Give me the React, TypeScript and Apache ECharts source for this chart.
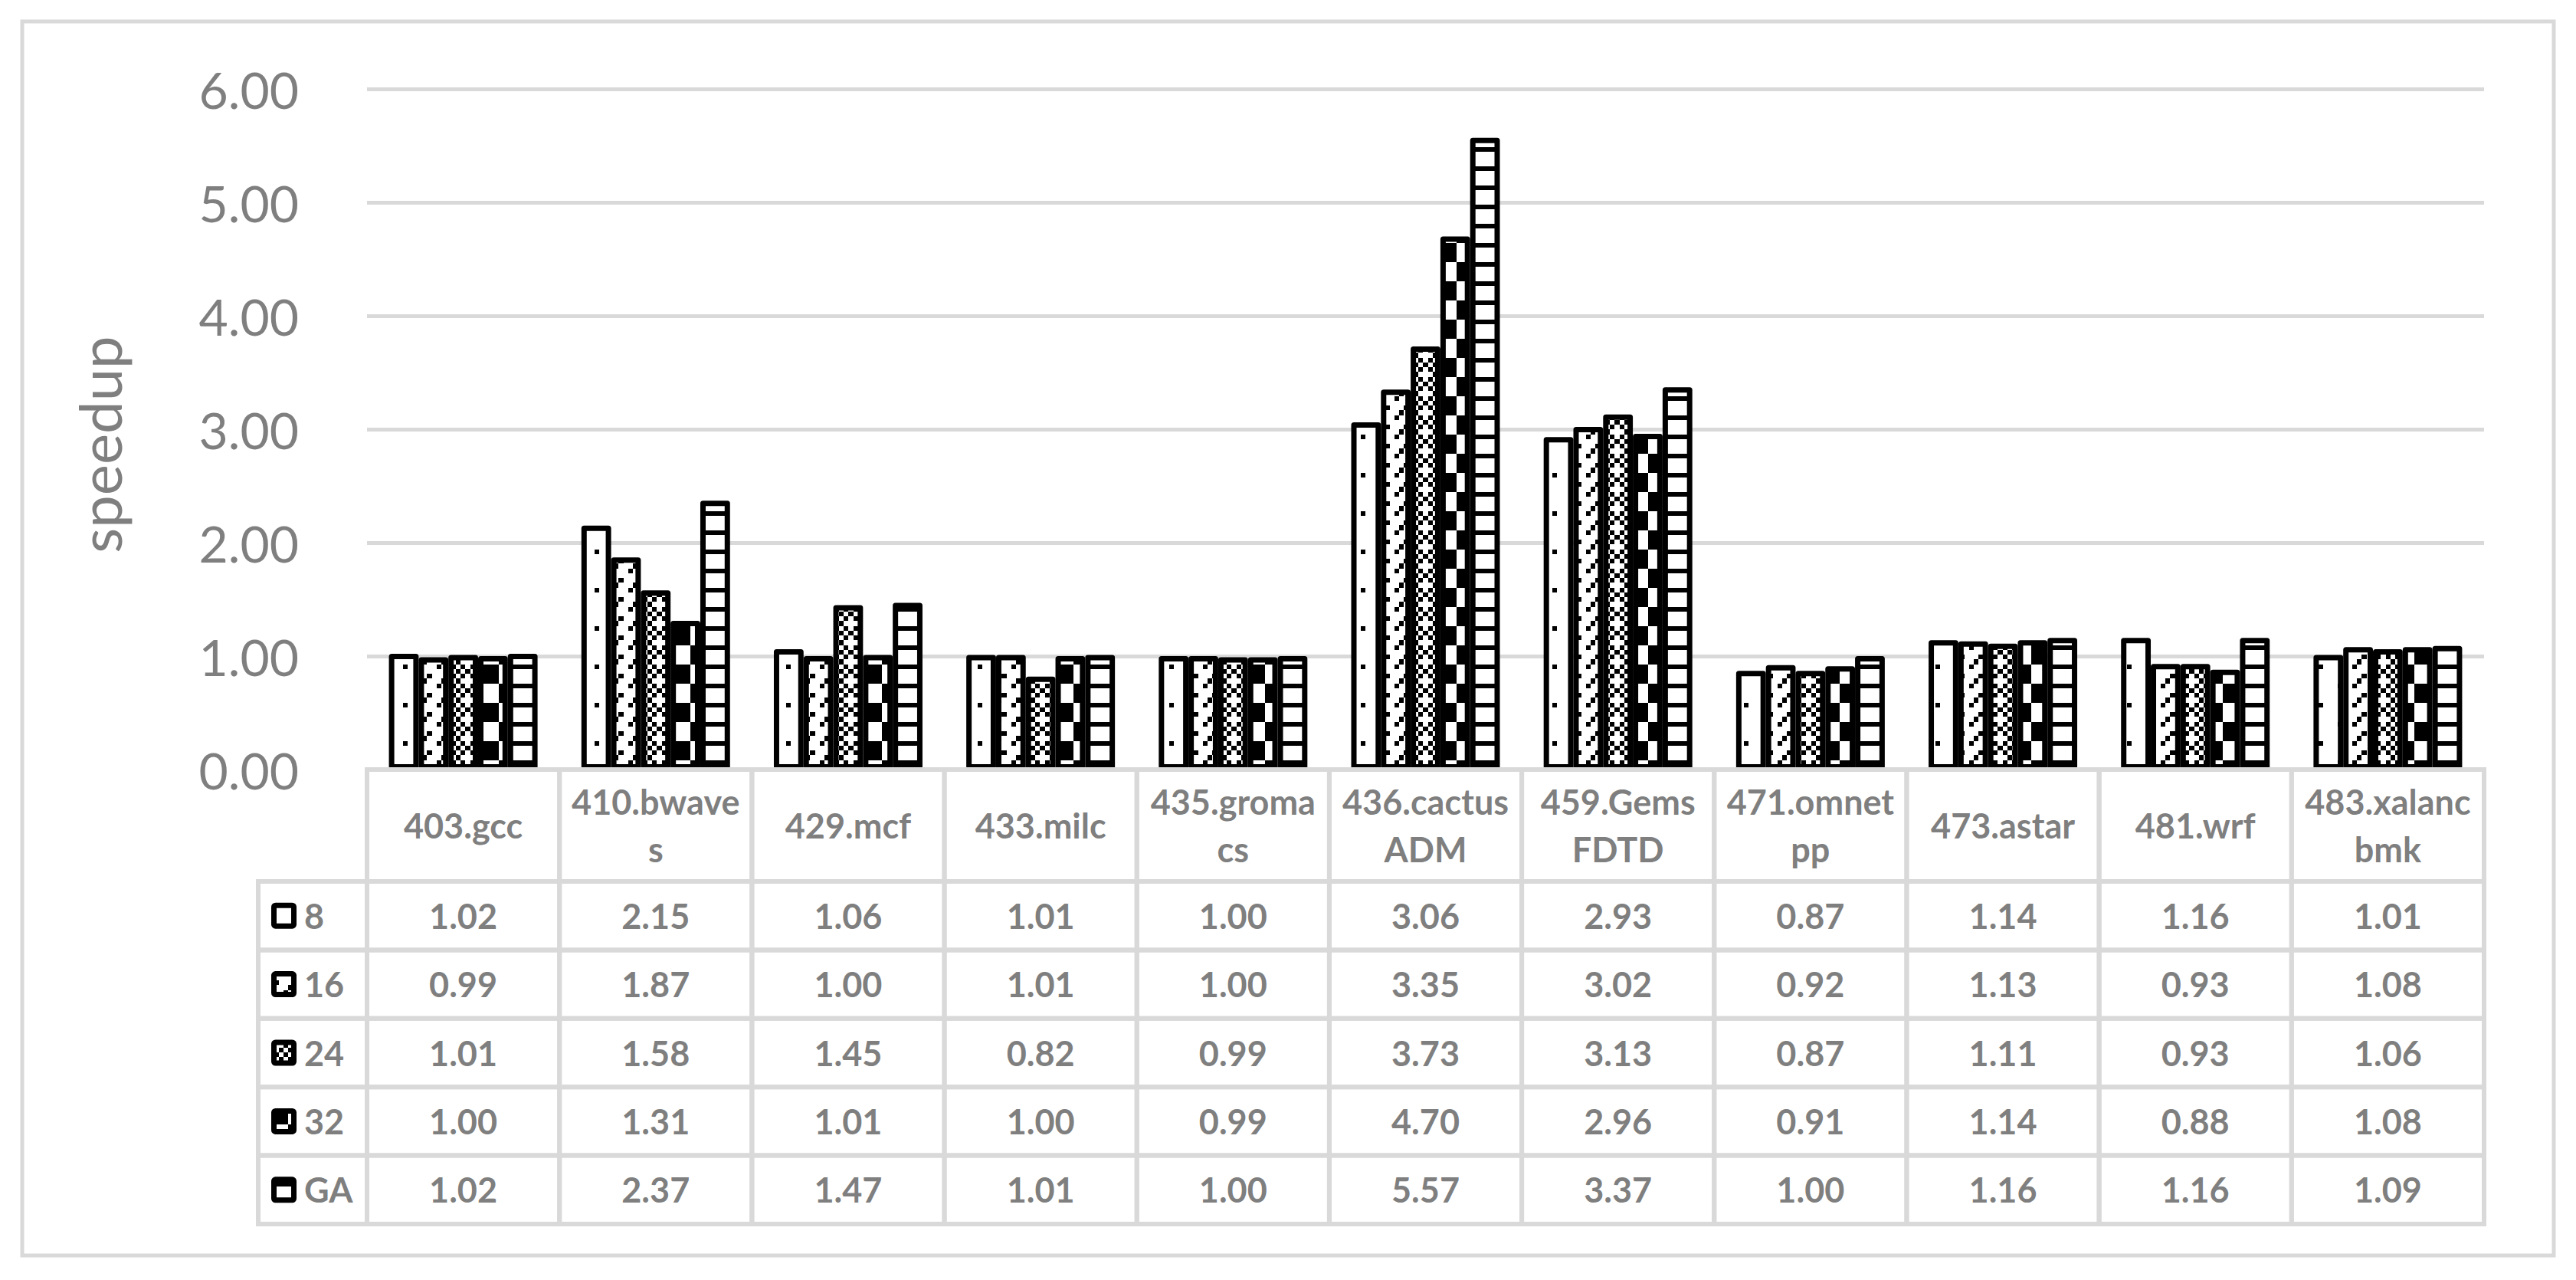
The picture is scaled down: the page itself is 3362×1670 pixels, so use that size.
import React, { useEffect, useRef } from 'react';
import * as echarts from 'echarts';

// ---------- data ----------
const categories = ['403.gcc', '410.bwaves', '429.mcf', '433.milc', '435.gromacs', '436.cactusADM', '459.GemsFDTD', '471.omnetpp', '473.astar', '481.wrf', '483.xalancbmk'];
const headerLabels = ['403.gcc', '410.bwave\ns', '429.mcf', '433.milc', '435.groma\ncs', '436.cactus\nADM', '459.Gems\nFDTD', '471.omnet\npp', '473.astar', '481.wrf', '483.xalanc\nbmk'];
const seriesNames = ['8', '16', '24', '32', 'GA'];
const s8 = [1.02, 2.15, 1.06, 1.01, 1.0, 3.06, 2.93, 0.87, 1.14, 1.16, 1.01];
const s16 = [0.99, 1.87, 1.0, 1.01, 1.0, 3.35, 3.02, 0.92, 1.13, 0.93, 1.08];
const s24 = [1.01, 1.58, 1.45, 0.82, 0.99, 3.73, 3.13, 0.87, 1.11, 0.93, 1.06];
const s32 = [1.0, 1.31, 1.01, 1.0, 0.99, 4.7, 2.96, 0.91, 1.14, 0.88, 1.08];
const sGA = [1.02, 2.37, 1.47, 1.01, 1.0, 5.57, 3.37, 1.0, 1.16, 1.16, 1.09];
const seriesValues = [s8, s16, s24, s32, sGA];
const yMin = 0;
const yMax = 6;
const yStep = 1;
const yAxisName = 'speedup';

// ---------- fill patterns (8x8 bitmaps, X = black) ----------
const PAT_8 = ['....X...', '........', '........', '........', 'X.......', '........', '........', '........'];
const PAT_16 = ['...X...X', '........', '.X...X..', 'X...X...', '...X...X', '........', '.X...X..', 'X...X...'];
const PAT_24 = ['X.X.X.X.', '.X.X...X', 'X.X.X.X.', '...X.X.X', 'X.X.X.X.', '.X.X...X', 'X.X.X.X.', '...X.X.X'];
const PAT_32 = ['....XXXX', '....XXXX', '....XXXX', '....XXXX', 'XXXX....', 'XXXX....', 'XXXX....', 'XXXX....'];
const PAT_GA = ['XXXXXXXX', '........', '........', '........', 'XXXXXXXX', '........', '........', '........'];
const patternBits = [PAT_8, PAT_16, PAT_24, PAT_32, PAT_GA];

// ---------- layout / style ----------
const W = 3362;
const H = 1670;
const TILE = 50;
const CELL = TILE / 8;
const OFF_X = 1;
const OFF_Y = 16.7;
const GRAY_TEXT = '#7f7f7f';
const GRID_COLOR = '#d9d9d9';
const HEADER_H = 146;
const ROW_H = 89.4;
const LEGEND_W = 142;
const TABLE_LINE = 6;
const FONT = 'Lato, Carlito, "Open Sans", sans-serif';

function makePattern(bits: string[]) {
  const c = document.createElement('canvas');
  c.width = TILE;
  c.height = TILE;
  const ctx = c.getContext('2d')!;
  ctx.fillStyle = '#ffffff';
  ctx.fillRect(0, 0, TILE, TILE);
  ctx.fillStyle = '#000000';
  for (let r = 0; r < 8; r++) {
    for (let col = 0; col < 8; col++) {
      if (bits[r][col] !== 'X') continue;
      const x0 = Math.round(OFF_X + CELL * col);
      const x1 = Math.round(OFF_X + CELL * (col + 1));
      const y0 = Math.round(OFF_Y + CELL * r);
      const y1 = Math.round(OFF_Y + CELL * (r + 1));
      for (const dx of [0, -TILE]) {
        for (const dy of [0, -TILE]) {
          ctx.fillRect(x0 + dx, y0 + dy, x1 - x0, y1 - y0);
        }
      }
    }
  }
  return { image: c, repeat: 'repeat', imageWidth: TILE, imageHeight: TILE };
}

export default function App() {
  const ref = useRef<HTMLDivElement>(null);

  useEffect(() => {
    if (!ref.current) return;
    const chart = echarts.init(ref.current, undefined, { renderer: 'svg', width: W, height: H });
    const patterns = patternBits.map(makePattern);

    const textStyleBold = {
      fill: GRAY_TEXT,
      fontFamily: FONT,
      fontWeight: 'bold',
      fontSize: 45,
    };

    const tableSeries: any = {
      type: 'custom',
      coordinateSystem: 'cartesian2d',
      xAxisIndex: 0,
      yAxisIndex: 0,
      silent: true,
      clip: false,
      z: 5,
      data: categories.map((_, i) => [i, 0]),
      encode: { x: 0, y: 1 },
      renderItem: (params: any, api: any) => {
        const i = api.value(0);
        const pt = api.coord([i, 0]);
        const w = api.size([1, 0])[0];
        const left = pt[0] - w / 2;
        const top = pt[1];
        const lineStyle = { fill: 'none', stroke: GRID_COLOR, lineWidth: TABLE_LINE };
        const children: any[] = [];
        children.push({ type: 'rect', shape: { x: left, y: top, width: w, height: HEADER_H }, style: lineStyle });
        children.push({
          type: 'text',
          style: {
            ...textStyleBold,
            text: headerLabels[i],
            x: pt[0],
            y: top + HEADER_H / 2,
            align: 'center',
            verticalAlign: 'middle',
            lineHeight: 62,
          },
        });
        for (let r = 0; r < seriesValues.length; r++) {
          const y = top + HEADER_H + r * ROW_H;
          children.push({ type: 'rect', shape: { x: left, y, width: w, height: ROW_H }, style: lineStyle });
          children.push({
            type: 'text',
            style: {
              ...textStyleBold,
              text: seriesValues[r][i].toFixed(2),
              x: pt[0],
              y: y + ROW_H / 2,
              align: 'center',
              verticalAlign: 'middle',
            },
          });
          if (i === 0) {
            const lx = left - LEGEND_W;
            children.push({ type: 'rect', shape: { x: lx, y, width: LEGEND_W, height: ROW_H }, style: lineStyle });
            children.push({
              type: 'rect',
              shape: { x: lx + 20.5, y: y + ROW_H / 2 - 13.5, width: 26, height: 27, r: 2 },
              style: { fill: patterns[r], stroke: '#000', lineWidth: 7 },
            });
            children.push({
              type: 'text',
              style: {
                ...textStyleBold,
                text: seriesNames[r],
                x: lx + 60,
                y: y + ROW_H / 2,
                align: 'left',
                verticalAlign: 'middle',
              },
            });
          }
        }
        return { type: 'group', children };
      },
    };

    const option: any = {
      animation: false,
      backgroundColor: '#ffffff',
      grid: { left: 479, right: 120, top: 116, height: 888, containLabel: false },
      xAxis: {
        type: 'category',
        data: categories,
        axisLine: { show: false },
        axisTick: { show: false },
        axisLabel: { show: false },
        splitLine: { show: false },
      },
      yAxis: {
        type: 'value',
        min: yMin,
        max: yMax,
        interval: yStep,
        axisLine: { show: false },
        axisTick: { show: false },
        axisLabel: {
          formatter: (v: number) => v.toFixed(2),
          color: GRAY_TEXT,
          fontSize: 66,
          fontFamily: FONT,
          margin: 89,
        },
        splitLine: { lineStyle: { color: GRID_COLOR, width: 5 } },
        name: yAxisName,
        nameLocation: 'middle',
        nameRotate: 90,
        nameGap: 312,
        nameTextStyle: { fontSize: 76, color: GRAY_TEXT, fontFamily: FONT, padding: [0, 40, 0, 0] },
      },
      graphic: [
        {
          type: 'rect',
          silent: true,
          shape: { x: 29, y: 28, width: 3304, height: 1610 },
          style: { fill: 'none', stroke: GRID_COLOR, lineWidth: 5 },
        },
      ],
      series: [
        ...seriesNames.map((name, k) => ({
          type: 'bar',
          name,
          data: seriesValues[k],
          barWidth: 38.8,
          barGap: '0%',
          z: 2,
          itemStyle: { color: patterns[k], borderColor: '#000', borderWidth: 7, borderJoin: 'round' },
          emphasis: { disabled: true },
        })),
        tableSeries,
      ],
    };
    chart.setOption(option);
    return () => chart.dispose();
  }, []);

  return (
    <div
      ref={ref}
      style={{ position: 'fixed', left: 0, top: 0, width: W, height: H, background: '#fff' }}
    />
  );
}
